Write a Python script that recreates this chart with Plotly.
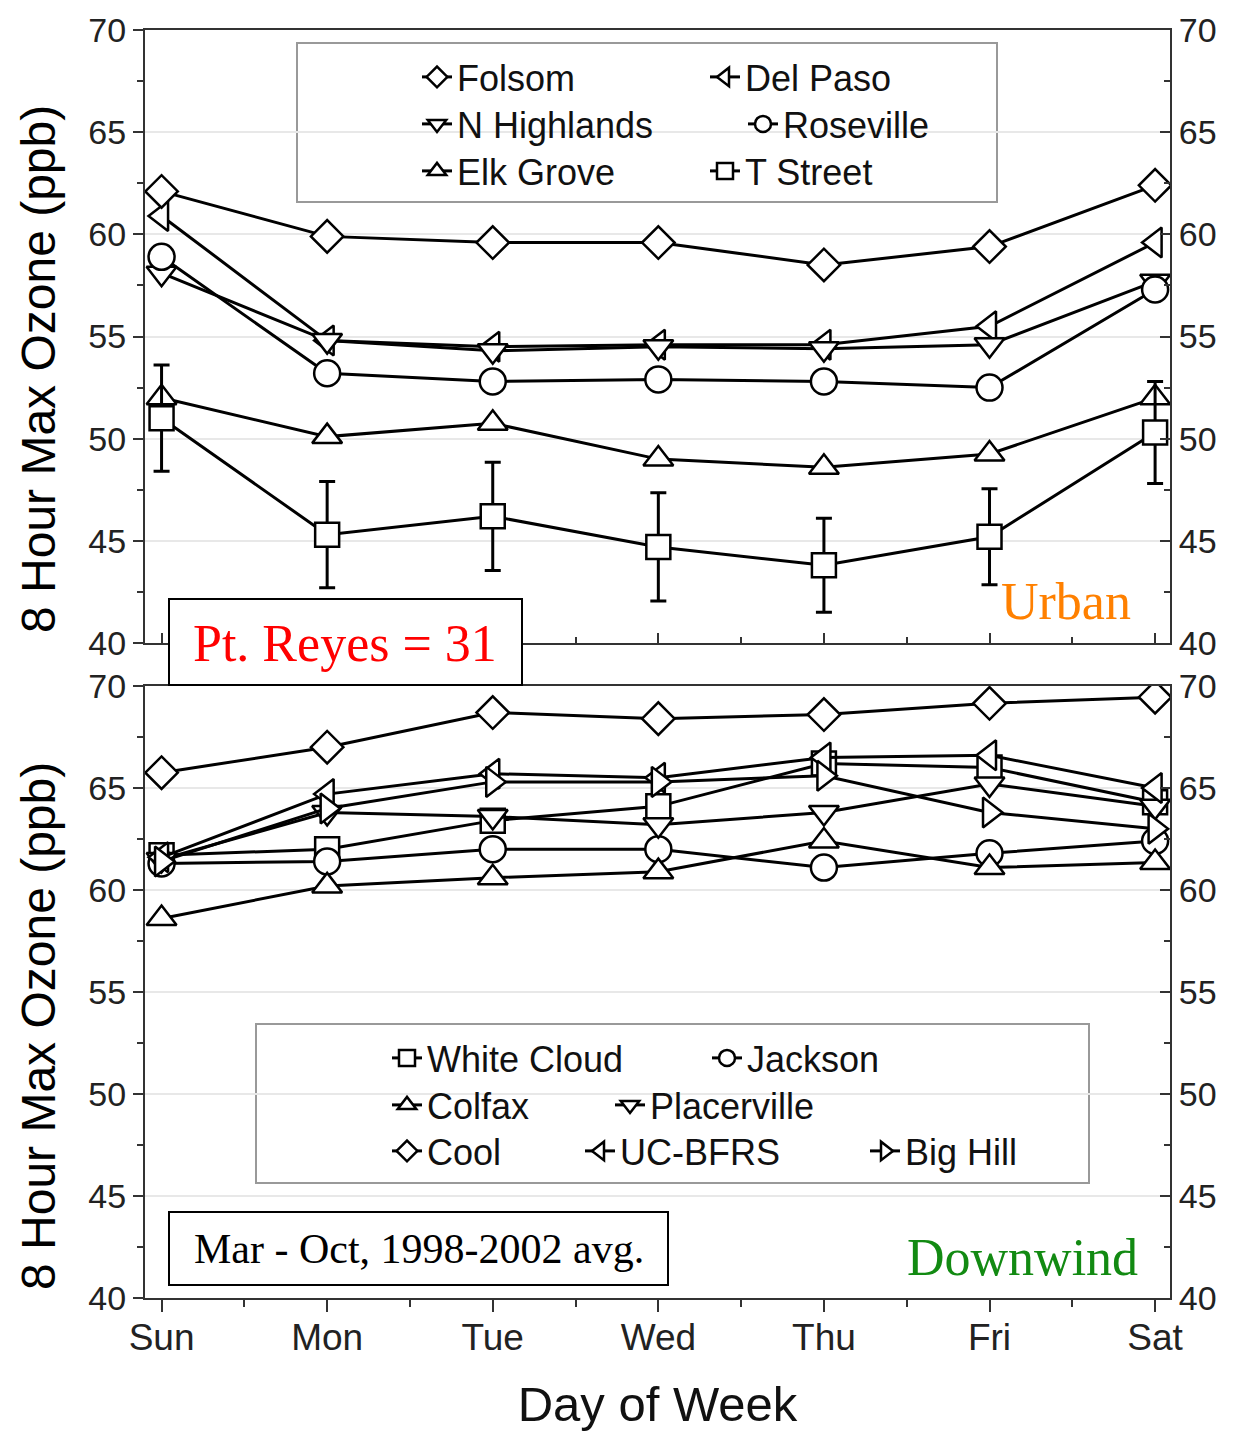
import plotly.graph_objects as go

days = ["Sun", "Mon", "Tue", "Wed", "Thu", "Fri", "Sat"]
yticks = [40, 45, 50, 55, 60, 65, 70]

# Urban sites (top panel)
folsom = [62.1, 59.9, 59.6, 59.6, 58.5, 59.4, 62.4]
del_paso = [60.9, 54.8, 54.5, 54.6, 54.6, 55.5, 59.6]
n_highlands = [58.1, 54.8, 54.3, 54.5, 54.4, 54.6, 57.7]
roseville = [58.9, 53.2, 52.8, 52.9, 52.8, 52.5, 57.3]
elk_grove = [52.0, 50.1, 50.75, 49.0, 48.6, 49.25, 52.0]
t_street = [51.0, 45.3, 46.2, 44.7, 43.8, 45.2, 50.3]
t_street_err = [2.6, 2.6, 2.65, 2.65, 2.3, 2.35, 2.5]

# Downwind sites (bottom panel)
white_cloud = [61.7, 62.0, 63.4, 64.1, 66.2, 66.0, 64.3]
jackson = [61.3, 61.4, 62.0, 62.0, 61.1, 61.8, 62.4]
colfax = [58.6, 60.2, 60.6, 60.9, 62.4, 61.1, 61.35]
placerville = [61.5, 63.8, 63.6, 63.2, 63.8, 65.2, 64.1]
cool = [65.75, 67.0, 68.7, 68.4, 68.6, 69.15, 69.45]
uc_bfrs = [61.6, 64.7, 65.7, 65.5, 66.5, 66.6, 65.0]
big_hill = [61.4, 64.0, 65.3, 65.3, 65.6, 63.8, 63.0]

xpos = list(range(len(days)))

FONT = "Liberation Sans, Arial, sans-serif"
SERIF = "Liberation Serif, Times New Roman, serif"

fig = go.Figure()

def add(name, vals, symbol, size, xa, ya, legend, lw=None, err=None):
    kw = {}
    if lw is not None:
        kw["legendwidth"] = lw
    if err is not None:
        kw["error_y"] = dict(type="data", array=err, visible=True,
                             color="black", thickness=3, width=8)
    fig.add_trace(go.Scatter(
        x=xpos, y=vals, name=name, mode="lines+markers",
        xaxis=xa, yaxis=ya, legend=legend,
        line=dict(color="black", width=3),
        marker=dict(symbol=symbol, size=size, color="white",
                    line=dict(color="black", width=2.5)),
        **kw))

# top panel (Folsom on the mirrored right-hand axis, same scale)
add("Folsom", folsom, "diamond", 25, "x", "y2", "legend", lw=243)
add("Del Paso", del_paso, "triangle-left", 26, "x", "y", "legend")
add("N Highlands", n_highlands, "triangle-down", 26, "x", "y", "legend2", lw=281)
add("Roseville", roseville, "circle", 26, "x", "y", "legend2")
add("Elk Grove", elk_grove, "triangle-up", 26, "x", "y", "legend3", lw=243)
add("T Street", t_street, "square", 24, "x", "y", "legend3", err=t_street_err)

# bottom panel (Cool on the mirrored right-hand axis, same scale)
add("White Cloud", white_cloud, "square", 24, "x2", "y3", "legend4", lw=275)
add("Jackson", jackson, "circle", 26, "x2", "y3", "legend4")
add("Colfax", colfax, "triangle-up", 26, "x2", "y3", "legend5", lw=178)
add("Placerville", placerville, "triangle-down", 26, "x2", "y3", "legend5")
add("Cool", cool, "diamond", 25, "x2", "y4", "legend6", lw=148)
add("UC-BFRS", uc_bfrs, "triangle-left", 26, "x2", "y3", "legend6", lw=240)
add("Big Hill", big_hill, "triangle-right", 26, "x2", "y3", "legend6")

L, R, T, B = 145, 63, 30, 133
W, H = 1233, 1431
PW, PH = W - L - R, H - T - B

def px(x):
    return (x - L) / PW

def py(y):
    return (H - B - y) / PH

top_dom = [py(643), 1.0]
bot_dom = [0.0, py(686)]

xrange_ = [-0.1, 6.09]

axis_common = dict(showline=True, linecolor="#333333", linewidth=2,
                   zeroline=False, automargin=False)

yax_left = dict(range=[40, 70], tickvals=yticks, ticks="outside", ticklen=10,
                tickwidth=2, tickcolor="#333333",
                minor=dict(dtick=2.5, tick0=40, ticks="outside", ticklen=6,
                           tickcolor="#333333", tickwidth=2, showgrid=False),
                showgrid=True, gridcolor="#e8e8e8", gridwidth=1.5,
                tickfont=dict(family=FONT, size=34, color="#222222"),
                **axis_common)

yax_right = dict(range=[40, 70], tickvals=yticks, ticks="inside", ticklen=10,
                 tickwidth=2, tickcolor="#333333",
                 minor=dict(dtick=2.5, tick0=40, ticks="inside", ticklen=6,
                            tickcolor="#333333", tickwidth=2),
                 showgrid=False, side="right",
                 tickfont=dict(family=FONT, size=34, color="#222222"),
                 **axis_common)

fig.update_layout(
    width=W, height=H,
    margin=dict(l=L, r=R, t=T, b=B, autoexpand=False),
    paper_bgcolor="white", plot_bgcolor="white",
    xaxis=dict(domain=[0, 1], anchor="y", range=xrange_, tickvals=xpos,
               ticktext=days, showticklabels=False, ticks="inside",
               ticklen=10, tickwidth=2, tickcolor="#333333",
               minor=dict(dtick=0.5, tick0=0, ticks="inside", ticklen=6,
                          tickcolor="#333333", tickwidth=2),
               mirror=True, showgrid=False, **axis_common),
    xaxis2=dict(domain=[0, 1], anchor="y3", range=xrange_, tickvals=xpos,
                ticktext=days, ticks="outside", ticklen=12, tickwidth=2,
                tickcolor="#333333", ticklabelstandoff=-6,
                minor=dict(dtick=0.5, tick0=0, ticks="outside", ticklen=7,
                           tickcolor="#333333", tickwidth=2),
                mirror=True, showgrid=False,
                tickfont=dict(family=FONT, size=37, color="#222222"),
                title=dict(text="Day of Week",
                           font=dict(family=FONT, size=49, color="#111111"),
                           standoff=32),
                **axis_common),
    yaxis=dict(domain=top_dom, anchor="x", **yax_left),
    yaxis2=dict(overlaying="y", anchor="x", **yax_right),
    yaxis3=dict(domain=bot_dom, anchor="x2", **yax_left),
    yaxis4=dict(overlaying="y3", anchor="x2", **yax_right),
)

leg_common = dict(orientation="h", xanchor="left", yanchor="middle",
                  bgcolor="rgba(0,0,0,0)", borderwidth=0, tracegroupgap=0,
                  font=dict(family=FONT, size=36, color="#111111"))
fig.update_layout(
    legend=dict(x=px(417), y=py(77), **leg_common),
    legend2=dict(x=px(417), y=py(124), **leg_common),
    legend3=dict(x=px(417), y=py(171), **leg_common),
    legend4=dict(x=px(387), y=py(1058), **leg_common),
    legend5=dict(x=px(387), y=py(1105), **leg_common),
    legend6=dict(x=px(387), y=py(1151), **leg_common),
)

shapes = [
    # legend frames
    dict(type="rect", xref="paper", yref="paper", x0=px(297), x1=px(997),
         y0=py(202), y1=py(43), line=dict(color="#999999", width=2),
         fillcolor="rgba(0,0,0,0)", layer="below"),
    dict(type="rect", xref="paper", yref="paper", x0=px(256), x1=px(1089),
         y0=py(1183), y1=py(1024), line=dict(color="#999999", width=2),
         fillcolor="rgba(0,0,0,0)", layer="below"),
    # annotation boxes
    dict(type="rect", xref="paper", yref="paper", x0=px(169), x1=px(522),
         y0=py(685), y1=py(599), line=dict(color="black", width=2),
         fillcolor="white", layer="above"),
    dict(type="rect", xref="paper", yref="paper", x0=px(169), x1=px(668),
         y0=py(1285), y1=py(1212), line=dict(color="black", width=2),
         fillcolor="white", layer="above"),
]
fig.update_layout(shapes=shapes)

ytitle = "8 Hour Max Ozone (ppb)"
annotations = [
    dict(text=ytitle, x=px(38), y=py(369), xref="paper", yref="paper",
         showarrow=False, textangle=-90, xanchor="center", yanchor="middle",
         font=dict(family=FONT, size=48, color="black")),
    dict(text=ytitle, x=px(38), y=py(1026), xref="paper", yref="paper",
         showarrow=False, textangle=-90, xanchor="center", yanchor="middle",
         font=dict(family=FONT, size=48, color="black")),
    dict(text="Pt. Reyes = 31", x=px(345), y=py(643), xref="paper",
         yref="paper", showarrow=False, xanchor="center", yanchor="middle",
         font=dict(family=SERIF, size=52, color="#ff0000")),
    dict(text="Urban", x=px(1066), y=py(601), xref="paper", yref="paper",
         showarrow=False, xanchor="center", yanchor="middle",
         font=dict(family=SERIF, size=52, color="#ff8000")),
    dict(text="Downwind", x=px(1022), y=py(1257), xref="paper", yref="paper",
         showarrow=False, xanchor="center", yanchor="middle",
         font=dict(family=SERIF, size=52, color="#128a12")),
    dict(text="Mar - Oct, 1998-2002 avg.", x=px(419), y=py(1249),
         xref="paper", yref="paper", showarrow=False, xanchor="center",
         yanchor="middle",
         font=dict(family=SERIF, size=42, color="black")),
]
fig.update_layout(annotations=annotations)

fig.write_html("out.html")
